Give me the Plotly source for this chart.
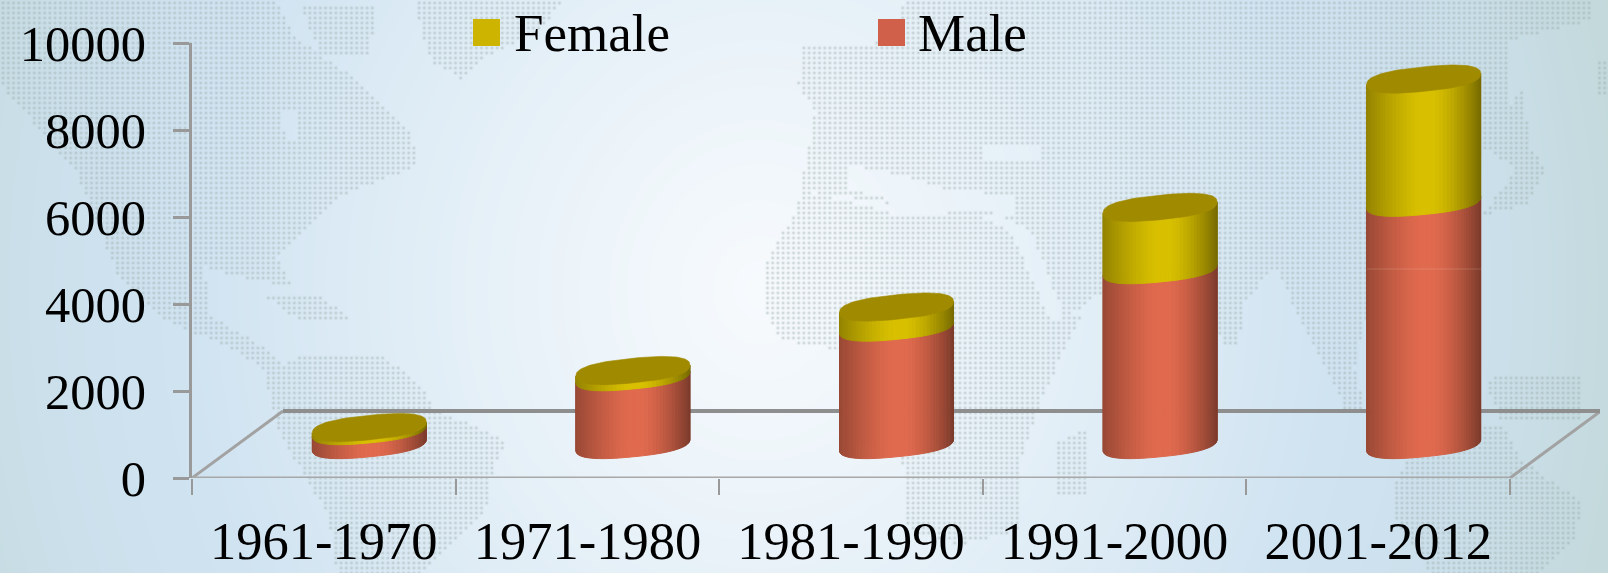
import base64, struct, zlib
import numpy as np
import plotly.graph_objects as go

# ---- data ----
categories = ["1961-1970", "1971-1980", "1981-1990", "1991-2000", "2001-2012"]
male = [320, 1560, 2700, 4020, 5570]
female = [70, 140, 460, 1430, 2830]
y_ticks = [0, 2000, 4000, 6000, 8000, 10000]

# ---- frame geometry (pixels of the 1608x573 page) ----
W, H = 1608, 573
L, R, T, B = 192, 1600, 43, 478
PX_X = 263.6          # pixels per category
PX_Y = (B - T) / 10000  # pixels per value unit
DEPTH_X = 91 / PX_X
DEPTH_Y = 67 / PX_Y
X_MAX = -0.5 + (R - L) / PX_X
BASE = DEPTH_Y / 2
SHIFT = DEPTH_X / 2
RAD_X = 57 / PX_X
RAD_Y = 12.3 / PX_Y
TILT = 5.5 / PX_Y
ROUND = 2.5


def px(x):
    return (x - L) / (R - L)


def py(y):
    return (B - y) / (B - T)


# ---- background picture: gradient plus a dotted world map ----
def inside(poly, xs, ys):
    poly = np.array(poly, float)
    res = np.zeros(xs.shape, bool)
    for (x1, y1), (x2, y2) in zip(poly, np.roll(poly, -1, axis=0)):
        cond = (y1 > ys) != (y2 > ys)
        res ^= cond & (xs < (x2 - x1) * (ys - y1) / (y2 - y1 + 1e-9) + x1)
    return res


land = [
    # North America
    [(0, 0), (275, 0), (296, 37), (362, 84), (408, 128), (418, 164), (383, 179), (337, 197), (306, 230), (275, 256),
     (290, 285), (255, 281), (204, 267), (209, 314), (270, 351), (290, 376), (265, 369), (224, 344), (168, 322),
     (117, 274), (76, 172), (0, 84)],
    # Arctic islands
    [(300, 5), (375, 5), (370, 55), (320, 55)],
    # Caribbean
    [(265, 296), (320, 296), (357, 322), (300, 322)],
    # Greenland
    [(413, 0), (561, 0), (540, 30), (480, 60), (460, 78), (430, 60)],
    # South America
    [(306, 355), (383, 355), (423, 387), (434, 409), (505, 439), (490, 479), (485, 512), (423, 573), (337, 573),
     (327, 512), (306, 479), (280, 435), (262, 370)],
    # Europe and Asia
    [(903, 0), (1590, 0), (1590, 20), (1510, 40), (1504, 130), (1470, 165), (1482, 205), (1400, 260), (1370, 300),
     (1354, 365), (1364, 407), (1345, 410), (1314, 345), (1305, 330), (1275, 267), (1245, 300), (1238, 343),
     (1222, 343), (1205, 300), (1180, 270), (1105, 290), (1065, 318), (1030, 230), (1000, 215), (960, 215),
     (870, 200), (800, 190), (815, 110), (798, 85), (800, 47), (840, 47), (895, 40)],
    # Africa
    [(764, 263), (790, 220), (804, 190), (900, 215), (980, 215), (1012, 234), (1050, 320), (1082, 312), (1040, 400),
     (1020, 460), (1018, 530), (960, 545), (908, 530), (900, 440), (880, 360), (840, 350), (781, 340), (764, 310)],
    # Madagascar
    [(1058, 440), (1085, 430), (1085, 497), (1058, 497)],
    # Islands of south-east Asia
    [(1484, 378), (1581, 373), (1581, 420), (1500, 420)],
    # Australia
    [(1395, 480), (1426, 425), (1504, 425), (1520, 460), (1581, 500), (1575, 540), (1540, 573), (1430, 573), (1395, 520)],
    # Far-east arc
    [(1482, 144), (1522, 88), (1530, 146), (1545, 170), (1525, 205), (1482, 215), (1515, 170)],
    [(1595, 62), (1608, 62), (1608, 95), (1595, 95)],
]
sea = [
    [(850, 165), (900, 175), (950, 190), (1015, 195), (1012, 213), (900, 210), (880, 195), (845, 190)],
    [(984, 145), (1042, 145), (1042, 160), (984, 160)],
    [(280, 110), (296, 110), (296, 140), (285, 140)],
]

yy, xx = np.mgrid[0:H, 0:W].astype(float)
r = np.sqrt(((xx - 760) / 800) ** 2 + ((yy - 290) / 900) ** 2)
stops = [0.0, 0.2, 0.45, 0.72, 0.9, 1.06, 1.3]
colors = np.array([[247, 250, 253], [238, 245, 250], [224, 237, 246], [208, 227, 241],
                   [204, 224, 236], [196, 218, 222], [188, 211, 203]], float)
bg = np.stack([np.interp(r, stops, colors[:, c]) for c in range(3)], axis=-1)
STEP_X, STEP_Y = 5.2, 5.0
ix, iy = np.floor(xx / STEP_X), np.floor(yy / STEP_Y)
cx_d, cy_d = (ix + 0.5) * STEP_X, (iy + 0.5) * STEP_Y
mask = np.zeros(xx.shape, bool)
for p in land:
    mask |= inside(p, cx_d, cy_d)
for p in sea:
    mask &= ~inside(p, cx_d, cy_d)
dot = np.exp(-((xx - cx_d) ** 2 + (yy - cy_d) ** 2) / (2 * 1.05 ** 2)) * mask * 0.46
dot_col = np.array([150, 168, 165], float)
img = (bg * (1 - dot[..., None]) + dot_col * dot[..., None]).round().astype(np.uint8)


def png_uri(a):
    h, w, _ = a.shape
    raw = b"".join(b"\x00" + a[i].tobytes() for i in range(h))

    def chunk(t, d):
        return struct.pack(">I", len(d)) + t + d + struct.pack(">I", zlib.crc32(t + d) & 0xffffffff)

    data = b"\x89PNG\r\n\x1a\n" + chunk(b"IHDR", struct.pack(">IIBBBBB", w, h, 8, 2, 0, 0, 0)) + \
        chunk(b"IDAT", zlib.compress(raw, 9)) + chunk(b"IEND", b"")
    return "data:image/png;base64," + base64.b64encode(data).decode()


fig = go.Figure()

# ---- real stacked bars (hidden inside the cylinders, carry the values) ----
xpos = [i + SHIFT for i in range(len(categories))]
fig.add_bar(x=xpos, y=male, base=BASE, width=0.36, marker_color="#df6a4e", name="Male", showlegend=False)
fig.add_bar(x=xpos, y=female, base=[BASE + m for m in male], width=0.36, marker_color="#d7be00",
            name="Female", showlegend=False)


# ---- floor ----
def floor_line(xs, ys, color, width):
    fig.add_scatter(x=xs, y=ys, mode="lines", line=dict(color=color, width=width), hoverinfo="skip",
                    showlegend=False, cliponaxis=False)


floor_line([-0.5, -0.5 + DEPTH_X], [0, DEPTH_Y], "#a2a2a2", 3)
floor_line([4.5, 4.5 + DEPTH_X], [0, DEPTH_Y], "#a2a2a2", 3)
floor_line([-0.5, 4.5], [0, 0], "#a8a8a8", 3)
floor_line([-0.5 + DEPTH_X, 4.5 + DEPTH_X], [DEPTH_Y, DEPTH_Y], "#8e8e8e", 4)

# ---- cylinders ----
N = 44
theta = np.linspace(np.pi, 0, N + 1)
edges = np.cos(theta)


def shade(base, u):
    u = float(u)
    left, right = 0.68, 0.56
    if u < 0:
        f = 1 - (1 - left) * min(1, max(0, (-u - 0.05) / 0.95)) ** 1.3
    else:
        f = 1 - (1 - right) * min(1, max(0, (u - 0.15) / 0.85)) ** 1.5
    c = [int(round(v * f)) for v in base]
    return "#%02x%02x%02x" % tuple(c)


def front(u, h):
    return h + TILT * u - RAD_Y * np.clip(1 - abs(u) ** ROUND, 0, 1) ** (1 / ROUND)


def band_trace(k, lows, highs, base):
    xs, ys = [], []
    u1, u2 = edges[k], edges[k + 1]
    for c, lo, hi in zip(xpos, lows, highs):
        xs += [c + RAD_X * u1, c + RAD_X * u2, c + RAD_X * u2, c + RAD_X * u1, c + RAD_X * u1, None]
        ys += [front(u1, lo), front(u2, lo), front(u2, hi), front(u1, hi), front(u1, lo), None]
    col = shade(base, (u1 + u2) / 2)
    fig.add_scatter(x=xs, y=ys, mode="lines", fill="toself", fillcolor=col, line=dict(color=col, width=1),
                    hoverinfo="skip", showlegend=False)


male_top = [BASE + m for m in male]
total_top = [BASE + m + f for m, f in zip(male, female)]
for k in range(N):
    band_trace(k, [BASE] * len(male), male_top, (224, 106, 78))
for k in range(N):
    band_trace(k, male_top, total_top, (216, 192, 0))

t = np.linspace(0, 2 * np.pi, 120)
ct = np.sign(np.cos(t)) * np.abs(np.cos(t)) ** (2 / ROUND)
st = np.sign(np.sin(t)) * np.abs(np.sin(t)) ** (2 / ROUND)
cap_x, cap_y = [], []
for c, h in zip(xpos, total_top):
    cap_x += list(c + RAD_X * ct) + [None]
    cap_y += list(h + TILT * ct + RAD_Y * st) + [None]
fig.add_scatter(x=cap_x, y=cap_y, mode="lines", fill="toself", fillcolor="#a08a00",
                line=dict(color="#a08a00", width=0.6), hoverinfo="skip", showlegend=False)

FAMILY = "Liberation Serif, Times New Roman, serif"
legend_font = dict(family=FAMILY, size=53, color="#000000")
x_font = dict(family=FAMILY, size=52.5, color="#000000")
y_font = dict(family=FAMILY, size=50.5, color="#000000")

layout_shapes = [
    dict(type="rect", xref="paper", yref="paper", x0=px(473), x1=px(500), y0=py(46), y1=py(19),
         fillcolor="#ccb400", line_width=0),
    dict(type="rect", xref="paper", yref="paper", x0=px(878), x1=px(905), y0=py(46), y1=py(19),
         fillcolor="#d0604a", line_width=0),
    # faint stray line across the last cylinder
    dict(type="line", xref="paper", yref="paper", x0=px(1367), x1=px(1481), y0=py(269), y1=py(269),
         line=dict(color="rgba(255,235,225,0.18)", width=1)),
]
annotations = [
    dict(text="Female", xref="paper", yref="paper", x=px(512), y=py(33), xanchor="left", yanchor="middle",
         showarrow=False, font=legend_font),
    dict(text="Male", xref="paper", yref="paper", x=px(916), y=py(33), xanchor="left", yanchor="middle",
         showarrow=False, font=legend_font),
]

fig.update_layout(
    width=W, height=H, autosize=False,
    margin=dict(l=L, r=W - R, t=T, b=H - B, pad=0),
    paper_bgcolor="rgba(0,0,0,0)", plot_bgcolor="rgba(0,0,0,0)",
    barmode="overlay", showlegend=False,
    font=x_font, shapes=layout_shapes, annotations=annotations,
    images=[dict(source=png_uri(img), xref="paper", yref="paper", x=px(0), y=py(0),
                 sizex=W / (R - L), sizey=H / (B - T), sizing="stretch", layer="below",
                 xanchor="left", yanchor="top")],
    xaxis=dict(range=[-0.5, X_MAX], tickmode="array", tickvals=list(range(len(categories))), ticktext=categories,
               ticks="", showgrid=False, zeroline=False, showline=False, ticklabelstandoff=27, automargin=False,
               tickfont=x_font,
               minor=dict(tickmode="array", tickvals=[i - 0.5 for i in range(len(categories) + 1)], ticks="outside",
                          ticklen=16, tickwidth=2, tickcolor="#999999", showgrid=False)),
    yaxis=dict(range=[0, 10000], tickmode="array", tickvals=y_ticks, ticktext=[str(v) for v in y_ticks],
               ticks="outside", ticklen=16, tickwidth=3, tickcolor="#999999", showline=True, linecolor="#999999",
               linewidth=3, showgrid=False, zeroline=False, ticklabelstandoff=17, automargin=False, tickfont=y_font),
)

fig.write_html("out.html", config={"displayModeBar": False},
               post_script="document.body.style.margin='0';document.body.style.overflow='hidden';")
